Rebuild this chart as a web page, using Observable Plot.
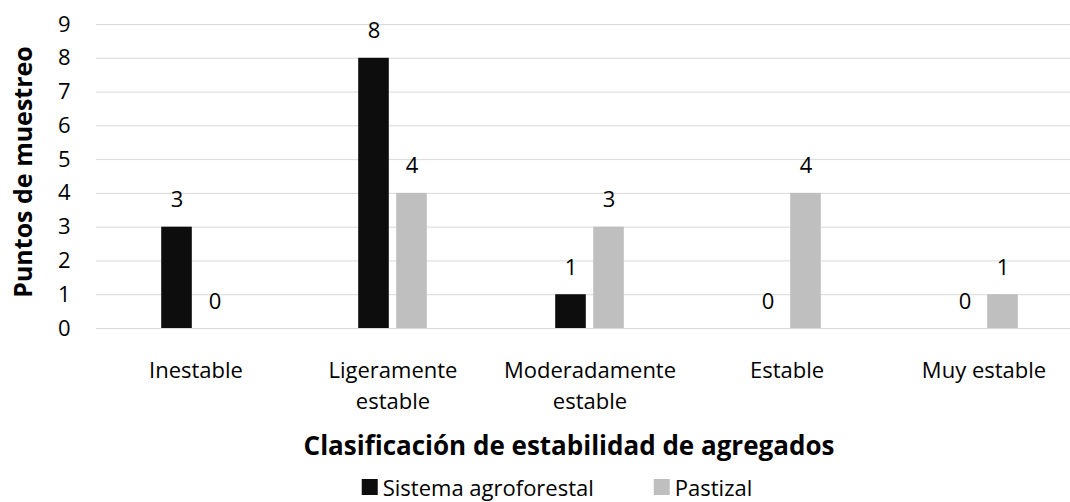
<!DOCTYPE html>
<html><head><meta charset="utf-8">
<script src="https://cdn.jsdelivr.net/npm/d3@7"></script>
<script src="https://cdn.jsdelivr.net/npm/@observablehq/plot@0.6"></script>
<style>
body{margin:0;background:#fff;font-family:"Open Sans",sans-serif;}
#chart svg{display:block;}
#legend{position:relative;height:40px;width:1070px;}
#legend .inner{position:absolute;left:557px;top:10px;transform:translateX(-50%);display:flex;align-items:center;white-space:nowrap;font-size:22px;color:#000;}
#legend .item{display:flex;align-items:center;margin:0 30px;}
#legend .sw{width:16px;height:16px;margin-right:5px;display:inline-block;}
</style></head><body>
<div id="chart"></div>
<div id="legend"><div class="inner"></div></div>
<script>
const categories = ["Inestable", "Ligeramente estable", "Moderadamente estable", "Estable", "Muy estable"];
const tickLabels = ["Inestable", "Ligeramente\nestable", "Moderadamente\nestable", "Estable", "Muy estable"];
const seriesNames = ["Sistema agroforestal", "Pastizal"];
const sistema = [3, 8, 1, 0, 0];
const pastizal = [0, 4, 3, 4, 1];
const colors = ["#0d0d0d", "#bfbfbf"];
const yTicks = [0, 1, 2, 3, 4, 5, 6, 7, 8, 9];
const yTitle = "Puntos de muestreo";
const xTitle = "Clasificación de estabilidad de agregados";

const rowsA = categories.map((c, i) => ({cat: c, series: seriesNames[0], value: sistema[i]}));
const rowsB = categories.map((c, i) => ({cat: c, series: seriesNames[1], value: pastizal[i]}));
const labelOf = new Map(categories.map((c, i) => [c, tickLabels[i]]));

const inset = 83.2;
const off = 19;

const plot = Plot.plot({
  width: 1070, height: 462,
  marginLeft: 96, marginRight: 0, marginTop: 24, marginBottom: 134,
  style: {fontFamily: "Open Sans", fontSize: "22px", color: "#000", background: "#fff"},
  x: {domain: categories, range: [96, 1083], padding: 0},
  y: {domain: [0, 9]},
  color: {domain: seriesNames, range: colors},
  marks: [
    Plot.gridY(yTicks, {stroke: "#d9d9d9", strokeOpacity: 1, strokeWidth: 1}),
    Plot.axisY({ticks: yTicks, tickSize: 0, tickPadding: 26, fontSize: 22, label: null}),
    Plot.axisX({tickSize: 0, tickPadding: 28, fontSize: 22, label: null, lineHeight: 1.4,
      tickFormat: d => labelOf.get(d)}),
    Plot.barY(rowsA, {x: "cat", y: "value", fill: "series", insetLeft: inset, insetRight: inset, dx: -off}),
    Plot.barY(rowsB, {x: "cat", y: "value", fill: "series", insetLeft: inset, insetRight: inset, dx: off}),
    Plot.text(rowsA, {x: "cat", y: "value", text: d => String(d.value), dx: -off, dy: -27, fontSize: 22, fill: "#000"}),
    Plot.text(rowsB, {x: "cat", y: "value", text: d => String(d.value), dx: off, dy: -27, fontSize: 22, fill: "#000"}),
    Plot.text([yTitle], {frameAnchor: "left", textAnchor: "middle", lineAnchor: "middle", rotate: -90, dx: -73, dy: -4.5, fontSize: 25, fontWeight: "bold", fill: "#000"}),
    Plot.text([xTitle], {frameAnchor: "bottom", textAnchor: "middle", lineAnchor: "middle", dx: -14.5, dy: 118.5, fontSize: 26, fontWeight: "bold", fill: "#000"})
  ]
});
document.getElementById("chart").appendChild(plot);

const inner = document.querySelector("#legend .inner");
seriesNames.forEach((name, i) => {
  const item = document.createElement("span");
  item.className = "item";
  const sw = document.createElement("span");
  sw.className = "sw";
  sw.style.background = colors[i];
  const t = document.createElement("span");
  t.textContent = name;
  item.appendChild(sw); item.appendChild(t);
  inner.appendChild(item);
});
</script>
</body></html>
